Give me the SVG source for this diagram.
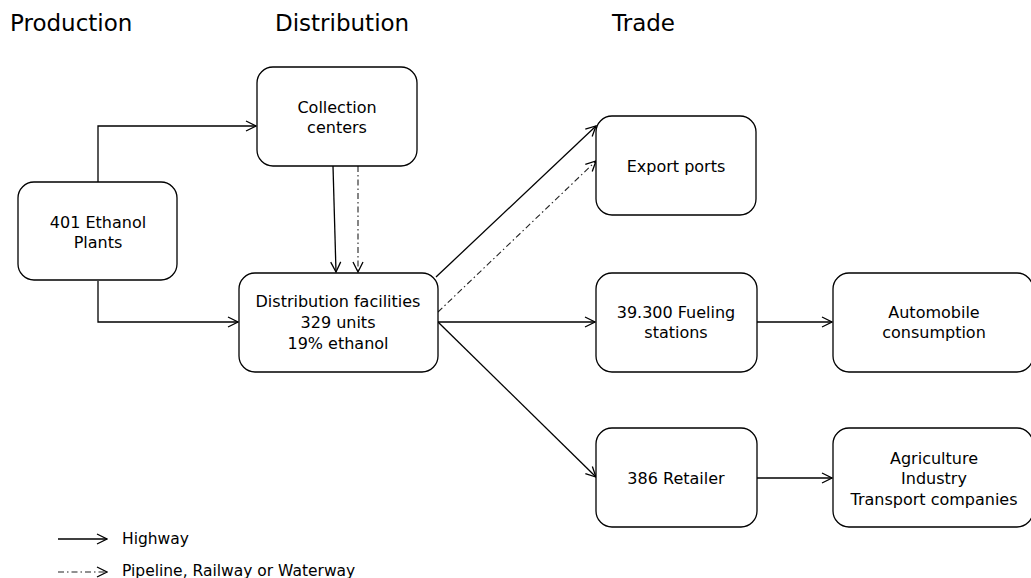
<svg xmlns="http://www.w3.org/2000/svg" width="1031" height="578" viewBox="0 0 1031 578">
<style>
.node rect{fill:#fff;stroke:#000;stroke-width:1.3}
.node text{font-family:"DejaVu Sans",Verdana,sans-serif;font-size:16px;fill:#000;text-anchor:middle;dominant-baseline:central}
.hdr{font-family:"DejaVu Sans",Verdana,sans-serif;font-size:23px;fill:#000}
.leg{font-family:"DejaVu Sans",Verdana,sans-serif;font-size:15.5px;fill:#000;dominant-baseline:central}
.c{fill:none;stroke:#000;stroke-width:1.3}
.dd{fill:none;stroke:#222;stroke-width:1.1;stroke-dasharray:6 3 1.5 3}
</style>
<defs>
<marker id="ah" viewBox="0 0 12 12" refX="11" refY="6" markerWidth="12" markerHeight="12" markerUnits="userSpaceOnUse" orient="auto">
<path d="M1,1 L11,6 L1,11" fill="none" stroke="#000" stroke-width="1.3"/>
</marker>
</defs>
<rect width="1031" height="578" fill="#fff"/>
<text class="hdr" x="10" y="31">Production</text>
<text class="hdr" x="275" y="31">Distribution</text>
<text class="hdr" x="612" y="31">Trade</text>

<g id="connectors">
<path class="c" d="M98,182 V126 H256" marker-end="url(#ah)"/>
<path class="c" d="M98,281 V322 H238" marker-end="url(#ah)"/>
<path class="c" d="M333,166 L336,272" marker-end="url(#ah)"/>
<path class="dd" d="M358,166 V272" marker-end="url(#ah)"/>
<path class="c" d="M436,277 L596,126" marker-end="url(#ah)"/>
<path class="dd" d="M438,312 L596,161" marker-end="url(#ah)"/>
<path class="c" d="M438,322 H595" marker-end="url(#ah)"/>
<path class="c" d="M438,322 L596,477" marker-end="url(#ah)"/>
<path class="c" d="M757,322 H832" marker-end="url(#ah)"/>
<path class="c" d="M757,478 H832" marker-end="url(#ah)"/>
<path class="c" d="M58,539 H107" marker-end="url(#ah)"/>
<path class="dd" d="M58,572 H107" marker-end="url(#ah)"/>
</g>

<g id="plants" class="node"><rect x="18" y="182" width="159" height="98" rx="16"/><text x="98" y="222">401 Ethanol</text><text x="98" y="242">Plants</text></g>
<g id="collection" class="node"><rect x="257" y="67" width="160" height="99" rx="16"/><text x="337" y="107">Collection</text><text x="337" y="127">centers</text></g>
<g id="distribution" class="node"><rect x="239" y="273" width="199" height="99" rx="16"/><text x="338" y="301">Distribution facilities</text><text x="338" y="322">329 units</text><text x="338" y="343">19% ethanol</text></g>
<g id="export" class="node"><rect x="596" y="116" width="160" height="99" rx="16"/><text x="676" y="166">Export ports</text></g>
<g id="fueling" class="node"><rect x="596" y="273" width="161" height="99" rx="16"/><text x="676" y="312">39.300 Fueling</text><text x="676" y="332">stations</text></g>
<g id="automobile" class="node"><rect x="833" y="273" width="200" height="99" rx="16"/><text x="934" y="312">Automobile</text><text x="934" y="332">consumption</text></g>
<g id="retailer" class="node"><rect x="596" y="428" width="161" height="99" rx="16"/><text x="676" y="478">386 Retailer</text></g>
<g id="agriculture" class="node"><rect x="833" y="428" width="200" height="99" rx="16"/><text x="934" y="458">Agriculture</text><text x="934" y="478">Industry</text><text x="934" y="499">Transport companies</text></g>

<text class="leg" x="122" y="539">Highway</text>
<text class="leg" x="122" y="571">Pipeline, Railway or Waterway</text>
</svg>
